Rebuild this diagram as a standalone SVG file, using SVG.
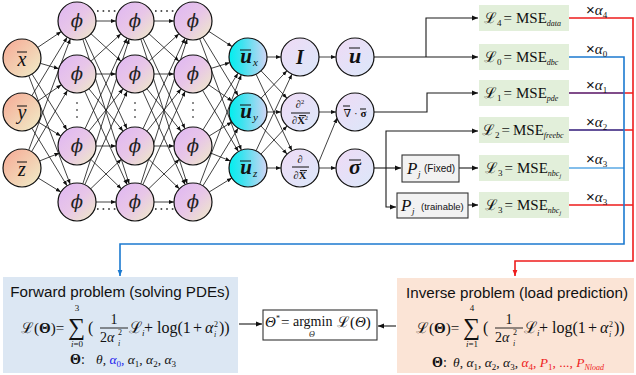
<svg xmlns="http://www.w3.org/2000/svg" width="636" height="375" viewBox="0 0 636 375">
<style>
.n{stroke:#111;stroke-width:1.2}
.e{stroke:#111;stroke-width:0.8;fill:none;marker-end:url(#ah)}
.c{stroke:#1a1a1a;stroke-width:1.1;fill:none;marker-end:url(#ah2)}
.m{font-family:"Liberation Serif","DejaVu Serif",serif;fill:#111}
.s{font-family:"Liberation Sans",Arial,sans-serif;fill:#111}
.ph{font-family:"DejaVu Serif","Liberation Serif",serif;font-style:italic;font-size:18px;fill:#222;text-anchor:middle}
.it{font-style:italic}
.b{font-weight:bold}
.bar{stroke:#111;stroke-width:1}
.loss{fill:#e2efda}
.pb{fill:#f2f2f2;stroke:#333;stroke-width:1.1}
.dots{stroke:#555;stroke-width:1.8;stroke-dasharray:1.6 4;fill:none}
</style>
<defs>
<marker id="ah" viewBox="0 0 10 10" refX="10" refY="5" markerWidth="5" markerHeight="5" markerUnits="userSpaceOnUse" orient="auto"><path d="M0,1 L10,5 L0,9 z" fill="#111"/></marker>
<marker id="ah2" viewBox="0 0 10 10" refX="10" refY="5" markerWidth="6" markerHeight="6" markerUnits="userSpaceOnUse" orient="auto"><path d="M0,1 L10,5 L0,9 z" fill="#111"/></marker>
<marker id="ahB" viewBox="0 0 10 10" refX="10" refY="5" markerWidth="6" markerHeight="6" markerUnits="userSpaceOnUse" orient="auto"><path d="M0,1 L10,5 L0,9 z" fill="#1c7ad0"/></marker>
<marker id="ahR" viewBox="0 0 10 10" refX="10" refY="5" markerWidth="6" markerHeight="6" markerUnits="userSpaceOnUse" orient="auto"><path d="M0,1 L10,5 L0,9 z" fill="#ee1c1c"/></marker>
<linearGradient id="gIn" x1="0" y1="0" x2="1" y2="1"><stop offset="0" stop-color="#f6a894"/><stop offset="1" stop-color="#f0efca"/></linearGradient>
<linearGradient id="gPhi" x1="0" y1="0" x2="1" y2="1"><stop offset="0" stop-color="#dfb6f3"/><stop offset="0.5" stop-color="#e8c6e8"/><stop offset="1" stop-color="#efebc6"/></linearGradient>
<linearGradient id="gU" x1="0" y1="0" x2="1" y2="0"><stop offset="0" stop-color="#00f0f0"/><stop offset="0.35" stop-color="#3fe2ef"/><stop offset="1" stop-color="#d2d4f4"/></linearGradient>
<linearGradient id="gOp" x1="0" y1="0" x2="1" y2="1"><stop offset="0" stop-color="#efdaf5"/><stop offset="1" stop-color="#dbe8fa"/></linearGradient>
<g id="blk">
<line x1="19" y1="21" x2="39" y2="21"/>
<line x1="14.03" y1="33.82" x2="43.97" y2="61.18"/>
<line x1="8" y1="38.23" x2="50" y2="128.77"/>
<line x1="5.8" y1="39.09" x2="52.2" y2="183.91"/>
<line x1="14.03" y1="61.18" x2="43.97" y2="33.82"/>
<line x1="19" y1="74" x2="39" y2="74"/>
<line x1="11.92" y1="88.8" x2="46.08" y2="131.2"/>
<line x1="7.84" y1="91.31" x2="50.16" y2="184.69"/>
<line x1="8" y1="128.77" x2="50" y2="38.23"/>
<line x1="11.92" y1="131.2" x2="46.08" y2="88.8"/>
<line x1="19" y1="146" x2="39" y2="146"/>
<line x1="13.67" y1="159.2" x2="44.33" y2="188.8"/>
<line x1="5.8" y1="183.91" x2="52.2" y2="39.09"/>
<line x1="7.84" y1="184.69" x2="50.16" y2="91.31"/>
<line x1="13.67" y1="188.8" x2="44.33" y2="159.2"/>
<line x1="19" y1="202" x2="39" y2="202"/>
</g>
</defs>
<rect width="636" height="375" fill="#fff"/>

<g id="connectors">
<g class="e">
<line x1="37.76" y1="47.39" x2="61.24" y2="31.61"/>
<line x1="40.24" y1="63.31" x2="58.76" y2="68.69"/>
<line x1="32.07" y1="74.11" x2="66.93" y2="129.89"/>
<line x1="28.78" y1="75.75" x2="70.22" y2="184.25"/>
<line x1="31.83" y1="95.74" x2="67.17" y2="37.26"/>
<line x1="37.63" y1="101.2" x2="61.37" y2="84.8"/>
<line x1="38.16" y1="121.99" x2="60.84" y2="136.01"/>
<line x1="31.91" y1="128.21" x2="67.09" y2="185.79"/>
<line x1="28.66" y1="150.2" x2="70.34" y2="38.8"/>
<line x1="31.6" y1="151.6" x2="67.4" y2="90.4"/>
<line x1="39.64" y1="160.94" x2="59.36" y2="153.06"/>
<line x1="38.16" y1="177.99" x2="60.84" y2="192.01"/>
<use href="#blk" x="77"/>
<use href="#blk" x="135"/>
<line x1="208.9" y1="31.41" x2="232.1" y2="46.59"/>
<line x1="202.83" y1="37.26" x2="238.17" y2="95.74"/>
<line x1="199.66" y1="38.8" x2="241.34" y2="150.2"/>
<line x1="211.15" y1="68.39" x2="229.85" y2="62.61"/>
<line x1="208.63" y1="84.8" x2="232.37" y2="101.2"/>
<line x1="202.6" y1="90.4" x2="238.4" y2="151.6"/>
<line x1="202.99" y1="129.84" x2="238.01" y2="73.16"/>
<line x1="209.16" y1="136.01" x2="231.84" y2="121.99"/>
<line x1="210.64" y1="153.06" x2="230.36" y2="160.94"/>
<line x1="199.74" y1="184.23" x2="241.26" y2="74.77"/>
<line x1="202.91" y1="185.79" x2="238.09" y2="128.21"/>
<line x1="209.16" y1="192.01" x2="231.84" y2="177.99"/>
<line x1="267" y1="57" x2="281" y2="57"/>
<line x1="261.05" y1="70.81" x2="286.95" y2="98.19"/>
<line x1="256.06" y1="74.2" x2="291.94" y2="150.8"/>
<line x1="261.05" y1="98.19" x2="286.95" y2="70.81"/>
<line x1="267" y1="112" x2="281" y2="112"/>
<line x1="260.93" y1="125.92" x2="287.07" y2="154.08"/>
<line x1="256.06" y1="150.8" x2="291.94" y2="74.2"/>
<line x1="260.93" y1="154.08" x2="287.07" y2="125.92"/>
<line x1="267" y1="168" x2="281" y2="168"/>
<line x1="319" y1="57" x2="336" y2="57"/>
<line x1="319" y1="112" x2="336" y2="112"/>
<line x1="319" y1="168" x2="336" y2="168"/>
<line x1="318" y1="164" x2="337" y2="118"/>
</g>
<path class="dots" d="M97,11 H117 M155,11 H175 M97,209 H117 M155,209 H175"/>
<g fill="#666">
<circle cx="77" cy="103" r="1"/><circle cx="77" cy="110" r="1"/><circle cx="77" cy="117" r="1"/>
<circle cx="135" cy="103" r="1"/><circle cx="135" cy="110" r="1"/><circle cx="135" cy="117" r="1"/>
<circle cx="193" cy="103" r="1"/><circle cx="193" cy="110" r="1"/><circle cx="193" cy="117" r="1"/>
</g>
<path class="c" d="M374,57 H478"/>
<path class="c" d="M426,57 V18 H478"/>
<path class="c" d="M374,112 H427 V93 H478"/>
<path class="c" d="M374,168 H401"/>
<path class="c" d="M386,168 V131 H478"/>
<path class="c" d="M386,168 V207 H396"/>
<path class="c" d="M459,168 H478"/>
<path class="c" d="M468,205 H478"/>
<path class="c" d="M239,324 H262"/>
<path class="c" d="M396,326 H378"/>
<g fill="none" stroke-width="1.6">
<path d="M569,18 H633 V261 H515 V276" stroke="#ee1c1c" marker-end="url(#ahR)"/>
<path d="M569,93 H633 M569,130 H633 M569,205 H633" stroke="#ee1c1c"/>
<path d="M569,93 H624" stroke="#5a4a9c"/>
<path d="M569,130 H624" stroke="#3452b2"/>
<path d="M569,168 H624" stroke="#5aa8e4"/>
<path d="M569,57 H624 V244 H120 V276" stroke="#1c7ad0" marker-end="url(#ahB)"/>
</g>
</g>

<g id="in_x"><circle class="n" cx="22" cy="58" r="19" fill="url(#gIn)"/><line class="bar" x1="17" y1="52" x2="27" y2="52"/><text class="m it" x="22" y="66" font-size="20" text-anchor="middle">x</text></g>
<g id="in_y"><circle class="n" cx="22" cy="112" r="19" fill="url(#gIn)"/><line class="bar" x1="17" y1="106" x2="27" y2="106"/><text class="m it" x="22" y="119" font-size="20" text-anchor="middle">y</text></g>
<g id="in_z"><circle class="n" cx="22" cy="168" r="19" fill="url(#gIn)"/><line class="bar" x1="17" y1="162" x2="27" y2="162"/><text class="m it" x="22" y="176" font-size="20" text-anchor="middle">z</text></g>

<g id="h1_1"><circle class="n" cx="77" cy="21" r="19" fill="url(#gPhi)"/><text class="ph" x="77" y="27">ϕ</text></g>
<g id="h1_2"><circle class="n" cx="77" cy="74" r="19" fill="url(#gPhi)"/><text class="ph" x="77" y="80">ϕ</text></g>
<g id="h1_3"><circle class="n" cx="77" cy="146" r="19" fill="url(#gPhi)"/><text class="ph" x="77" y="152">ϕ</text></g>
<g id="h1_4"><circle class="n" cx="77" cy="202" r="19" fill="url(#gPhi)"/><text class="ph" x="77" y="208">ϕ</text></g>
<g id="h2_1"><circle class="n" cx="135" cy="21" r="19" fill="url(#gPhi)"/><text class="ph" x="135" y="27">ϕ</text></g>
<g id="h2_2"><circle class="n" cx="135" cy="74" r="19" fill="url(#gPhi)"/><text class="ph" x="135" y="80">ϕ</text></g>
<g id="h2_3"><circle class="n" cx="135" cy="146" r="19" fill="url(#gPhi)"/><text class="ph" x="135" y="152">ϕ</text></g>
<g id="h2_4"><circle class="n" cx="135" cy="202" r="19" fill="url(#gPhi)"/><text class="ph" x="135" y="208">ϕ</text></g>
<g id="h3_1"><circle class="n" cx="193" cy="21" r="19" fill="url(#gPhi)"/><text class="ph" x="193" y="27">ϕ</text></g>
<g id="h3_2"><circle class="n" cx="193" cy="74" r="19" fill="url(#gPhi)"/><text class="ph" x="193" y="80">ϕ</text></g>
<g id="h3_3"><circle class="n" cx="193" cy="146" r="19" fill="url(#gPhi)"/><text class="ph" x="193" y="152">ϕ</text></g>
<g id="h3_4"><circle class="n" cx="193" cy="202" r="19" fill="url(#gPhi)"/><text class="ph" x="193" y="208">ϕ</text></g>

<g id="u_x"><circle class="n" cx="248" cy="57" r="19" fill="url(#gU)"/><line class="bar" x1="240" y1="50" x2="251" y2="50"/><text class="m it b" x="246" y="63" font-size="21" text-anchor="middle">u</text><text class="m it" x="253" y="66" font-size="11">x</text></g>
<g id="u_y"><circle class="n" cx="248" cy="112" r="19" fill="url(#gU)"/><line class="bar" x1="240" y1="105" x2="251" y2="105"/><text class="m it b" x="246" y="118" font-size="21" text-anchor="middle">u</text><text class="m it" x="253" y="121" font-size="11">y</text></g>
<g id="u_z"><circle class="n" cx="248" cy="168" r="19" fill="url(#gU)"/><line class="bar" x1="240" y1="161" x2="251" y2="161"/><text class="m it b" x="246" y="174" font-size="21" text-anchor="middle">u</text><text class="m it" x="253" y="177" font-size="11">z</text></g>

<g id="op_I"><circle class="n" cx="300" cy="57" r="19" fill="url(#gOp)"/><text class="m it b" x="300" y="64" font-size="20" text-anchor="middle">I</text></g>
<g id="op_d2"><circle class="n" cx="300" cy="112" r="19" fill="url(#gOp)"/><text class="m" x="300" y="108" font-size="10.5" text-anchor="middle">∂<tspan font-size="6.5" dy="-4">2</tspan></text><line class="bar" x1="291" y1="113" x2="310" y2="113" stroke-width="0.8"/><text class="m" x="300" y="124" font-size="10.5" text-anchor="middle">∂<tspan class="b">X</tspan><tspan font-size="6.5" dy="-4">2</tspan></text><line class="bar" x1="299" y1="115.6" x2="306" y2="115.6" stroke-width="0.7"/></g>
<g id="op_d1"><circle class="n" cx="300" cy="168" r="19" fill="url(#gOp)"/><text class="m" x="300" y="163" font-size="10.5" text-anchor="middle">∂</text><line class="bar" x1="292" y1="167" x2="309" y2="167" stroke-width="0.8"/><text class="m" x="300" y="179" font-size="10.5" text-anchor="middle">∂<tspan class="b">X</tspan></text><line class="bar" x1="300" y1="170.6" x2="307" y2="170.6" stroke-width="0.7"/></g>

<g id="out_u"><circle class="n" cx="355" cy="57" r="19" fill="url(#gOp)"/><line class="bar" x1="349" y1="48" x2="360" y2="48"/><text class="m it b" x="355" y="63" font-size="22" text-anchor="middle">u</text></g>
<g id="out_div"><circle class="n" cx="355" cy="112" r="19" fill="url(#gOp)"/><line class="bar" x1="343" y1="106" x2="350" y2="106" stroke-width="0.8"/><line class="bar" x1="360" y1="109" x2="366" y2="109" stroke-width="0.8"/><text class="m" x="355" y="117" font-size="11" text-anchor="middle">∇ · <tspan class="b">σ</tspan></text></g>
<g id="out_sigma"><circle class="n" cx="355" cy="168" r="19" fill="url(#gOp)"/><line class="bar" x1="349" y1="160" x2="361" y2="160"/><text class="m it b" x="355" y="174" font-size="22" text-anchor="middle">σ</text></g>

<g id="p_fixed"><rect class="pb" x="402" y="155" width="57" height="27"/><text class="m it" x="407" y="174" font-size="17">P</text><text class="m it" x="418" y="177" font-size="9">j</text><text class="s" x="424" y="172" font-size="10">(Fixed)</text></g>
<g id="p_train"><rect class="pb" x="397" y="193" width="71" height="25"/><text class="m it" x="401" y="211" font-size="17">P</text><text class="m it" x="412" y="214" font-size="9">j</text><text class="s" x="421" y="210" font-size="9.5">(trainable)</text></g>

<g id="loss4"><rect class="loss" x="479" y="5" width="90" height="26"/><text class="m" y="23" font-size="15"><tspan x="484">ℒ</tspan><tspan font-size="9" dy="3">4</tspan><tspan dx="2" dy="-3">=</tspan><tspan x="516">MSE</tspan><tspan class="it" font-size="8" dy="3">data</tspan></text></g>
<g id="loss0"><rect class="loss" x="479" y="44" width="90" height="26"/><text class="m" y="62" font-size="15"><tspan x="484">ℒ</tspan><tspan font-size="9" dy="3">0</tspan><tspan dx="2" dy="-3">=</tspan><tspan x="516">MSE</tspan><tspan class="it" font-size="8" dy="3">dbc</tspan></text></g>
<g id="loss1"><rect class="loss" x="479" y="80" width="90" height="26"/><text class="m" y="98" font-size="15"><tspan x="484">ℒ</tspan><tspan font-size="9" dy="3">1</tspan><tspan dx="2" dy="-3">=</tspan><tspan x="516">MSE</tspan><tspan class="it" font-size="8" dy="3">pde</tspan></text></g>
<g id="loss2"><rect class="loss" x="479" y="117" width="90" height="26"/><text class="m" y="135" font-size="15"><tspan x="482">ℒ</tspan><tspan font-size="9" dy="3">2</tspan><tspan dx="2" dy="-3">=</tspan><tspan x="513">MSE</tspan><tspan class="it" font-size="8" dy="3">freebc</tspan></text></g>
<g id="loss3a"><rect class="loss" x="479" y="155" width="90" height="26"/><text class="m" y="173" font-size="15"><tspan x="485">ℒ</tspan><tspan font-size="9" dy="3">3</tspan><tspan dx="2" dy="-3">=</tspan><tspan x="517">MSE</tspan><tspan class="it" font-size="8" dy="3">nbc</tspan><tspan class="it" font-size="6" dy="2">j</tspan></text></g>
<g id="loss3b"><rect class="loss" x="479" y="192" width="90" height="26"/><text class="m" y="210" font-size="15"><tspan x="485">ℒ</tspan><tspan font-size="9" dy="3">3</tspan><tspan dx="2" dy="-3">=</tspan><tspan x="517">MSE</tspan><tspan class="it" font-size="8" dy="3">nbc</tspan><tspan class="it" font-size="6" dy="2">j</tspan></text></g>

<g id="weights" font-size="15">
<text x="586" y="15"><tspan class="s">×</tspan><tspan class="m it">α</tspan><tspan class="m" font-size="9" dy="3">4</tspan></text>
<text x="586" y="54"><tspan class="s">×</tspan><tspan class="m it">α</tspan><tspan class="m" font-size="9" dy="3">0</tspan></text>
<text x="586" y="90"><tspan class="s">×</tspan><tspan class="m it">α</tspan><tspan class="m" font-size="9" dy="3">1</tspan></text>
<text x="586" y="127"><tspan class="s">×</tspan><tspan class="m it">α</tspan><tspan class="m" font-size="9" dy="3">2</tspan></text>
<text x="586" y="164"><tspan class="s">×</tspan><tspan class="m it">α</tspan><tspan class="m" font-size="9" dy="3">3</tspan></text>
<text x="586" y="202"><tspan class="s">×</tspan><tspan class="m it">α</tspan><tspan class="m" font-size="9" dy="3">3</tspan></text>
</g>

<g id="forward">
<rect x="3" y="277" width="235" height="96" fill="#dce7f3"/>
<text class="s" x="120" y="297" font-size="15.2" text-anchor="middle">Forward problem (solving PDEs)</text>
<text class="m" x="21" y="333" font-size="15">ℒ(<tspan class="b">Θ</tspan>)=</text>
<text class="m" x="68" y="335" font-size="24">∑</text>
<text class="m" x="77" y="311" font-size="9" text-anchor="middle" fill="#2222ee">3</text>
<text class="m" x="77" y="347" font-size="9" text-anchor="middle" fill="#2222ee"><tspan class="it">i</tspan>=0</text>
<text class="m" x="88" y="333" font-size="16">(</text>
<text class="m" x="114" y="324" font-size="14" text-anchor="middle">1</text>
<line x1="100" y1="328" x2="128" y2="328" stroke="#111" stroke-width="0.9"/>
<text class="m" x="100" y="342" font-size="14">2<tspan class="it">α</tspan></text>
<text class="m" x="118" y="335" font-size="8">2</text>
<text class="m it" x="118" y="346" font-size="8">i</text>
<text class="m" y="333" font-size="16"><tspan x="129">ℒ</tspan><tspan class="it" font-size="9" dy="3">i</tspan><tspan x="144" dy="-3">+</tspan><tspan x="157">log(1</tspan><tspan x="193">+</tspan><tspan x="205" class="it">α</tspan><tspan x="219">))</tspan></text>
<text class="m" x="214" y="327" font-size="8">2</text>
<text class="m it" x="214" y="337" font-size="8">i</text>
<text class="m" x="70" y="364" font-size="14"><tspan class="b">Θ</tspan>:</text>
<text class="m" x="96" y="364" font-size="13.5"><tspan class="it">θ</tspan>, <tspan class="it" fill="#2222ee">α</tspan><tspan fill="#2222ee" font-size="9" dy="3">0</tspan><tspan fill="#2222ee" dy="-3">,</tspan> <tspan class="it">α</tspan><tspan font-size="9" dy="3">1</tspan><tspan dy="-3">,</tspan> <tspan class="it">α</tspan><tspan font-size="9" dy="3">2</tspan><tspan dy="-3">,</tspan> <tspan class="it">α</tspan><tspan font-size="9" dy="3">3</tspan></text>
</g>

<g id="argmin">
<rect x="263" y="310" width="114" height="30" fill="#fff" stroke="#333" stroke-width="1.1"/>
<text class="m it" x="265" y="327" font-size="15">Θ</text>
<text class="m" x="276" y="321" font-size="8">*</text>
<text class="m" x="281" y="327" font-size="15">=</text>
<text class="m" x="293" y="326" font-size="14">argmin</text>
<text class="m it" x="312" y="337" font-size="8" text-anchor="middle">Θ</text>
<text class="m" x="337" y="327" font-size="15">ℒ(<tspan class="it">Θ</tspan>)</text>
</g>

<g id="inverse">
<rect x="397" y="278" width="237" height="95" fill="#fbe4d6"/>
<text class="s" x="517" y="298" font-size="15.2" text-anchor="middle">Inverse problem (load prediction)</text>
<g transform="translate(395,0)">
<text class="m" x="21" y="333" font-size="15">ℒ(<tspan class="b">Θ</tspan>)=</text>
<text class="m" x="68" y="335" font-size="24">∑</text>
<text class="m" x="77" y="311" font-size="9" text-anchor="middle" fill="#ee1c1c">4</text>
<text class="m" x="77" y="347" font-size="9" text-anchor="middle" fill="#ee1c1c"><tspan class="it">i</tspan>=1</text>
<text class="m" x="88" y="333" font-size="16">(</text>
<text class="m" x="114" y="324" font-size="14" text-anchor="middle">1</text>
<line x1="100" y1="328" x2="128" y2="328" stroke="#111" stroke-width="0.9"/>
<text class="m" x="100" y="342" font-size="14">2<tspan class="it">α</tspan></text>
<text class="m" x="118" y="335" font-size="8">2</text>
<text class="m it" x="118" y="346" font-size="8">i</text>
<text class="m" y="333" font-size="16"><tspan x="129">ℒ</tspan><tspan class="it" font-size="9" dy="3">i</tspan><tspan x="144" dy="-3">+</tspan><tspan x="157">log(1</tspan><tspan x="193">+</tspan><tspan x="205" class="it">α</tspan><tspan x="219">))</tspan></text>
<text class="m" x="214" y="327" font-size="8">2</text>
<text class="m it" x="214" y="337" font-size="8">i</text>
</g>
<text class="m" x="432" y="367" font-size="14"><tspan class="b">Θ</tspan>:</text>
<text class="m" x="453" y="367" font-size="13.5"><tspan class="it">θ</tspan>, <tspan class="it">α</tspan><tspan font-size="9" dy="3">1</tspan><tspan dy="-3">,</tspan> <tspan class="it">α</tspan><tspan font-size="9" dy="3">2</tspan><tspan dy="-3">,</tspan> <tspan class="it">α</tspan><tspan font-size="9" dy="3">3</tspan><tspan dy="-3">,</tspan> <tspan class="it" fill="#ee1c1c">α</tspan><tspan fill="#ee1c1c" font-size="9" dy="3">4</tspan><tspan fill="#ee1c1c" dy="-3">,</tspan> <tspan class="it" fill="#ee1c1c">P</tspan><tspan fill="#ee1c1c" font-size="9" dy="3">1</tspan><tspan fill="#ee1c1c" dy="-3">, ..., </tspan><tspan class="it" fill="#ee1c1c">P</tspan><tspan class="it" fill="#ee1c1c" font-size="8" dy="3">Nload</tspan></text>
</g>
</svg>
